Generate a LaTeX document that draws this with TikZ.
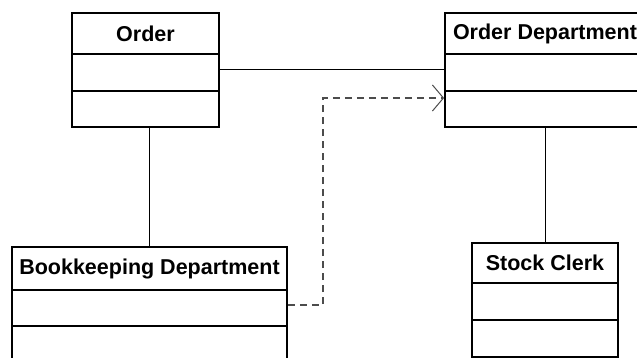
\documentclass[tikz,border=0pt]{standalone}
\usepackage{fontspec}
\setmainfont{Liberation Sans}
\usetikzlibrary{positioning,calc,arrows.meta}

\begin{document}
\begin{tikzpicture}[x=1pt,y=-1pt,
        cls/.style={rectangle,draw,line width=1.8pt,inner sep=2pt,anchor=center,font=\fontsize{21.5}{24}\selectfont\bfseries},
        assoc/.style={line width=1pt},
        dep/.style={draw=black!70,line width=1.4pt,dash pattern=on 7pt off 5pt,-{Straight Barb[length=11pt,width=26pt,line width=1pt]}}]
        \useasboundingbox[fill=white] (0,0) rectangle (637,358);
        \clip (0,0) rectangle (637,358);
        \node[cls,minimum width = 147pt,minimum height = 41pt] at (145.5,33.5) (order) {Order};
        \node[cls,minimum width = 147pt,minimum height = 37pt] at (145.5,72.5) (orderattr) {};
        \node[cls,minimum width = 147pt,minimum height = 36pt] at (145.5,109) (orderops) {};
        \node[cls,minimum width = 200pt,minimum height = 41pt] at (545,33.5) (dept) {Order Department};
        \node[cls,minimum width = 200pt,minimum height = 37pt] at (545,72.5) (deptattr) {};
        \node[cls,minimum width = 200pt,minimum height = 36pt] at (545,109) (deptops) {};
        \node[cls,minimum width = 275pt,minimum height = 43pt] at (149.5,268.5) (book) {Bookkeeping Department};
        \node[cls,minimum width = 275pt,minimum height = 36pt] at (149.5,308) (bookattr) {};
        \node[cls,minimum width = 275pt,minimum height = 36pt] at (149.5,344) (bookops) {};
        \node[cls,minimum width = 146pt,minimum height = 40pt] at (545,263) (clerk) {Stock Clerk};
        \node[cls,minimum width = 146pt,minimum height = 37pt] at (545,301.5) (clerkattr) {};
        \node[cls,minimum width = 146pt,minimum height = 37pt] at (545,338.5) (clerkops) {};
        \coordinate (bend) at (323,98);
        \draw [assoc] ([yshift=2.5pt]orderattr.east)--([yshift=2.5pt]deptattr.west);
        \draw [assoc] (book.north)--(book.north |- orderops.south);
        \draw [assoc] (deptops.south)--(clerk.north);
        \draw [dep] ([yshift=3pt]bookattr.east) -| (bend) -- (deptops.west |- bend);
    \end{tikzpicture}
\end{document}
